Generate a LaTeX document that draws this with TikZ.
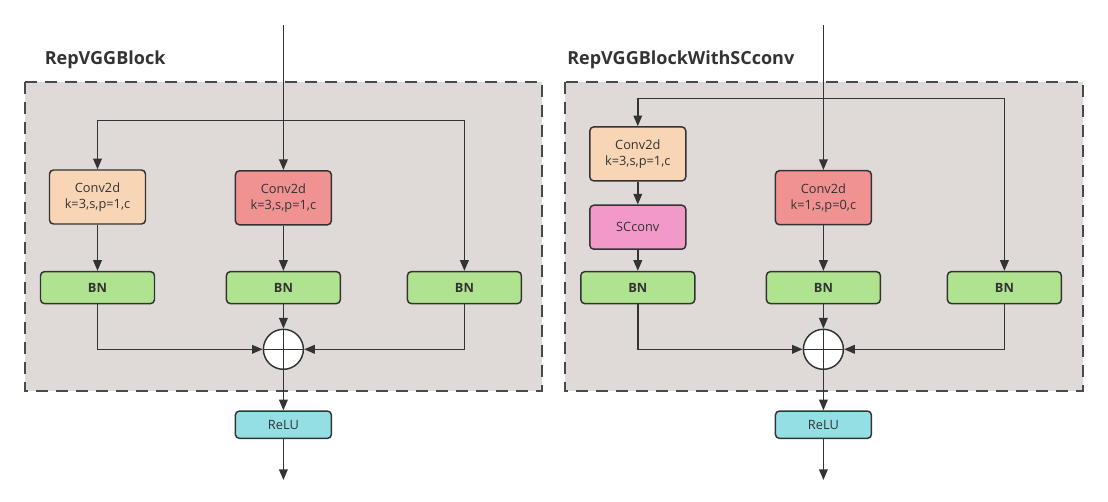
\documentclass[tikz,border=0pt]{standalone}
\usepackage{fontspec}
\setmainfont{Open Sans}
\usetikzlibrary{arrows.meta}
\definecolor{panelbg}{HTML}{DFDAD8}
\definecolor{paneledge}{HTML}{4A4A4A}
\definecolor{linec}{HTML}{333333}
\definecolor{textc}{HTML}{333333}
\definecolor{convA}{HTML}{F8D5B5}
\definecolor{convB}{HTML}{F09292}
\definecolor{bnfill}{HTML}{AFE390}
\definecolor{scfill}{HTML}{F19AC9}
\definecolor{relufill}{HTML}{94DFE3}
\begin{document}
\begin{tikzpicture}[x=0.75pt,y=-0.75pt,
  wire/.style={draw=linec, line width=1.15pt},
  arr/.style={wire, -{Triangle[length=8pt,width=6.5pt]}},
  panel/.style={fill=panelbg, draw=paneledge, line width=1.5pt, dash pattern=on 9pt off 6pt},
  title/.style={anchor=west, text=textc, font=\fontsize{13.5}{16}\selectfont\bfseries, inner sep=0pt},
  block/.style={draw=linec, line width=1.1pt, rounded corners=3pt, text=textc, align=center, inner sep=0pt,
    font=\fontsize{9.6}{12}\selectfont},
  conv/.style={block, minimum width=72pt, minimum height=40.5pt},
  bnbox/.style={block, fill=bnfill, minimum width=85.5pt, minimum height=24pt, font=\fontsize{9.6}{12}\selectfont\bfseries},
  scbox/.style={block, fill=scfill, minimum width=72pt, minimum height=33pt},
  relubox/.style={block, fill=relufill, minimum width=72pt, minimum height=20.5pt},
  sumnode/.style={circle, draw=linec, line width=1.1pt, fill=white, minimum size=30pt, inner sep=0pt,
    path picture={\draw[linec, line width=1.1pt]
      (path picture bounding box.north) -- (path picture bounding box.south)
      (path picture bounding box.west) -- (path picture bounding box.east);}}
]
\useasboundingbox (0,0) rectangle (1108,501);

% ---------- RepVGGBlock ----------
\draw[panel] (24.8,81.7) rectangle (542.3,390.5);
\node[title] (t1) at (44.5,60) {RepVGGBlock};

\coordinate (inA) at (283.4,25);
\coordinate (busA) at (283.4,120.7);
\node[conv, fill=convA] (cLA) at (97.5,197) {Conv2d\\k=3,s,p=1,c};
\node[conv, fill=convB] (cMA) at (283.4,197.8) {Conv2d\\k=3,s,p=1,c};
\node[bnbox] (bLA) at (97.5,287.6) {BN};
\node[bnbox] (bMA) at (283.4,287.6) {BN};
\node[bnbox] (bRA) at (464.4,287.6) {BN};
\node[sumnode] (sA) at (283.4,349.3) {};
\node[relubox] (rA) at (283.4,424.7) {ReLU};
\coordinate (outA) at (283.4,480);

\draw[arr] (inA) -- (cMA);
\draw[arr] (busA) -| (cLA);
\draw[arr] (busA) -| (bRA);
\draw[arr] (cLA) -- (bLA);
\draw[arr] (cMA) -- (bMA);
\draw[arr] (bMA) -- (sA);
\draw[arr] (bLA) |- (sA.west);
\draw[arr] (bRA) |- (sA.east);
\draw[arr] (sA) -- (rA);
\draw[arr] (rA) -- (outA);

% ---------- RepVGGBlockWithSCconv ----------
\draw[panel] (564.8,81.7) rectangle (1082.5,390.5);
\node[title] (t2) at (567,60) {RepVGGBlockWithSCconv};

\coordinate (inB) at (823.4,25);
\coordinate (busB) at (823.4,98.7);
\node[conv, fill=convA] (cLB) at (637.8,153.9) {Conv2d\\k=3,s,p=1,c};
\node[scbox] (scB) at (637.8,227.2) {SCconv};
\node[conv, fill=convB] (cMB) at (823.4,197.7) {Conv2d\\k=1,s,p=0,c};
\node[bnbox] (bLB) at (637.8,287.6) {BN};
\node[bnbox] (bMB) at (823.4,287.6) {BN};
\node[bnbox] (bRB) at (1004.4,287.6) {BN};
\node[sumnode] (sB) at (823.4,349.3) {};
\node[relubox] (rB) at (823.4,424.7) {ReLU};
\coordinate (outB) at (823.4,480);

\draw[arr] (inB) -- (cMB);
\draw[arr] (busB) -| (cLB);
\draw[arr] (busB) -| (bRB);
\draw[arr] (cLB) -- (scB);
\draw[arr] (scB) -- (bLB);
\draw[arr] (cMB) -- (bMB);
\draw[arr] (bMB) -- (sB);
\draw[arr] (bLB) |- (sB.west);
\draw[arr] (bRB) |- (sB.east);
\draw[arr] (sB) -- (rB);
\draw[arr] (rB) -- (outB);
\end{tikzpicture}
\end{document}
